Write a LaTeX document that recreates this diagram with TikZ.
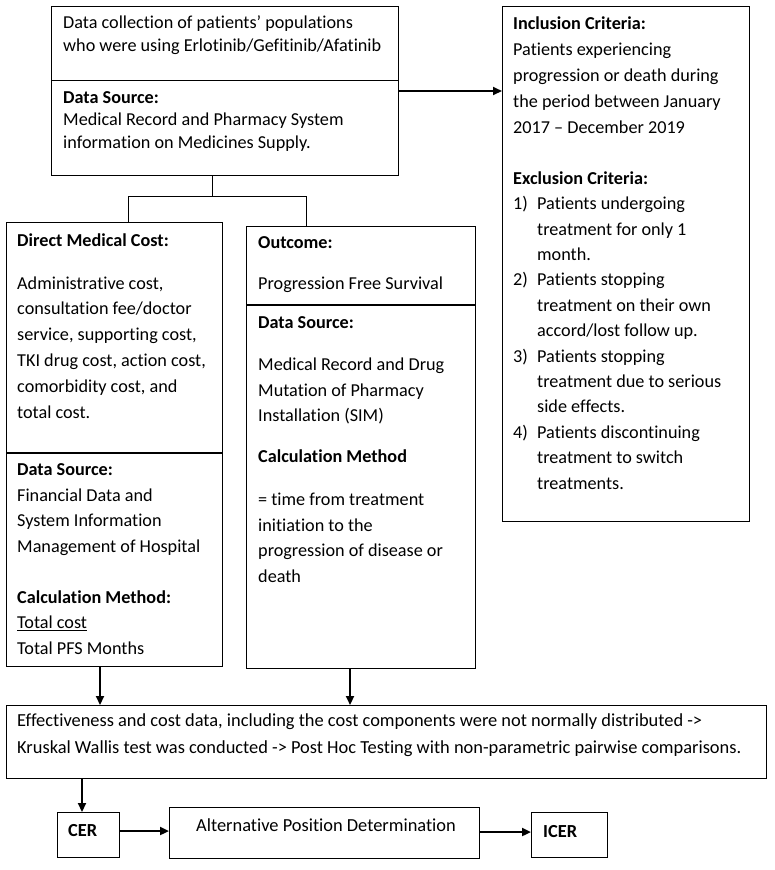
\documentclass[tikz,border=0pt]{standalone}
\usepackage{fontspec}
\setmainfont[Ligatures={NoCommon}]{Carlito}
\usetikzlibrary{arrows.meta}
\begin{document}
\begin{tikzpicture}[x=1pt,y=-1pt,
  box/.style={draw=black,line width=1.2pt,inner sep=0pt,anchor=north west},
  txt/.style={anchor=base west,inner sep=0pt,align=left,text=black},
  arr/.style={line width=2.2pt,-{Triangle[length=9pt,width=8pt]}},
  ln/.style={line width=1pt}]
\useasboundingbox[fill=white] (0,0) rectangle (774,870);

% boxes
\node[box,minimum width=347pt,minimum height=169pt] (top) at (51,6) {};
\node[box,minimum width=247pt,minimum height=515pt] (rbox) at (502,6) {};
\node[box,minimum width=216pt,minimum height=444pt] (lbox) at (6,222) {};
\node[box,minimum width=229pt,minimum height=442pt] (mbox) at (246,226) {};
\node[box,minimum width=760pt,minimum height=73pt] (big) at (6,705) {};
\node[box,minimum width=62pt,minimum height=45pt] (cer) at (57,812) {};
\node[box,minimum width=310pt,minimum height=51pt] (alt) at (169,807) {};
\node[box,minimum width=76pt,minimum height=45pt] (icer) at (531,812) {};

% dividers
\draw[line width=1pt] (top.west |- 0,80) -- (top.east |- 0,80);
\draw[line width=1.2pt] (lbox.west |- 0,453) -- (lbox.east |- 0,453);
\draw[line width=2pt] (mbox.west |- 0,305) -- (mbox.east |- 0,305);

% texts (anchored at the baseline of their last line)
\node[txt,font=\fontsize{18.2}{23}\selectfont] (t1) at (63,51)
  {Data collection of patients’ populations\\who were using Erlotinib/Gefitinib/Afatinib};
\node[txt,font=\fontsize{18.2}{22.5}\selectfont] (t2) at (63,148)
  {\textbf{Data Source:}\\Medical Record and Pharmacy System\\information on Medicines Supply.};

\node[txt,font=\fontsize{18.2}{26}\selectfont] (inc) at (513,133)
  {\textbf{Inclusion Criteria:}\\Patients experiencing\\progression or death during\\the period between January\\2017 – December 2019};
\node[txt,font=\fontsize{18.2}{25.4}\selectfont] (exc) at (513,489)
  {\textbf{Exclusion Criteria:}\\
   \makebox[24pt][l]{1)}Patients undergoing\\
   \hspace*{24pt}treatment for only 1\\
   \hspace*{24pt}month.\\
   \makebox[24pt][l]{2)}Patients stopping\\
   \hspace*{24pt}treatment on their own\\
   \hspace*{24pt}accord/lost follow up.\\
   \makebox[24pt][l]{3)}Patients stopping\\
   \hspace*{24pt}treatment due to serious\\
   \hspace*{24pt}side effects.\\
   \makebox[24pt][l]{4)}Patients discontinuing\\
   \hspace*{24pt}treatment to switch\\
   \hspace*{24pt}treatments.};

\node[txt,font=\fontsize{18.2}{25.8}\selectfont] (dmc) at (17,418)
  {\textbf{Direct Medical Cost:}\\[17pt]Administrative cost,\\consultation fee/doctor\\service, supporting cost,\\TKI drug cost, action cost,\\comorbidity cost, and\\total cost.};
\node[txt,font=\fontsize{18.2}{25.5}\selectfont] (lds) at (17,654)
  {\textbf{Data Source:}\\Financial Data and\\System Information\\Management of Hospital\\[25.5pt]\textbf{Calculation Method:}\\\underline{Total cost}\\Total PFS Months};

\node[txt,font=\fontsize{18.2}{25.5}\selectfont] (out) at (258,289)
  {\textbf{Outcome:}\\[15.5pt]Progression Free Survival};
\node[txt,font=\fontsize{18.2}{25.5}\selectfont] (mds) at (258,582)
  {\textbf{Data Source:}\\[16.5pt]Medical Record and Drug\\Mutation of Pharmacy\\Installation (SIM)\\[15.5pt]\textbf{Calculation Method}\\[17.5pt]= time from treatment\\initiation to the\\progression of disease or\\death};

\node[txt,font=\fontsize{18.4}{27}\selectfont] (eff) at (17,753)
  {Effectiveness and cost data, including the cost components were not normally distributed ->\\Kruskal Wallis test was conducted -> Post Hoc Testing with non-parametric pairwise comparisons.};

\node[txt,font=\fontsize{18.4}{20}\selectfont\bfseries] (tcer) at (68,836) {CER};
\node[txt,font=\fontsize{18.4}{20}\selectfont] (talt) at (196,831) {Alternative Position Determination};
\node[txt,font=\fontsize{18.4}{20}\selectfont\bfseries] (ticer) at (543,837) {ICER};

% tree connector
\coordinate (j) at (212,196);
\coordinate (jl) at (128,196);
\coordinate (jr) at (306,196);
\draw[ln] (top.south -| j) -- (j);
\draw[ln] (jl) -- (jr);
\draw[ln] (jl) -- (jl |- lbox.north);
\draw[ln] (jr) -- (jr |- mbox.north);

% arrows
\draw[arr] (top.east |- 0,91) -- (rbox.west |- 0,91);
\draw[arr] (lbox.south -| 100,0) -- (big.north -| 100,0);
\draw[arr] (mbox.south -| 350,0) -- (big.north -| 350,0);
\draw[arr] (big.south -| 82,0) -- (cer.north -| 82,0);
\draw[arr] (cer.east |- 0,831) -- (alt.west |- 0,831);
\draw[arr] (alt.east |- 0,832) -- (icer.west |- 0,832);
\end{tikzpicture}
\end{document}
